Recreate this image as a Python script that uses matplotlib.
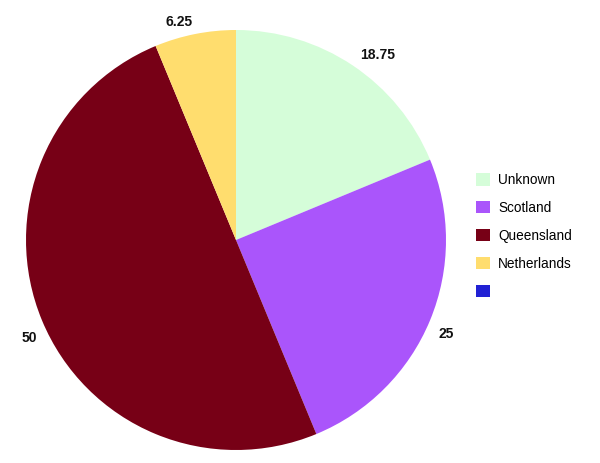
import numpy as np
import matplotlib.pyplot as plt

plt.rcParams['font.family'] = ['Liberation Sans', 'DejaVu Sans']

categories = ['Unknown', 'Scotland', 'Queensland', 'Netherlands', '']
values = [18.75, 25, 50, 6.25, 0]
value_labels = ['18.75', '25', '50', '6.25']
colors = ['#d5fdd9', '#aa55fb', '#770016', '#ffdd6e', '#2121d4']

# where the value labels sit (degrees ccw from +x, distance in radii)
label_angles = [52.8, -23.5, 204.9, 104.6]
label_dists = [1.118, 1.092, 1.086, 1.085]

fig = plt.figure(figsize=(6, 4.63), dpi=100)
ax = fig.add_axes([26 / 600, 13 / 463, 420 / 600, 420 / 463])
wedges, _ = ax.pie(values, colors=colors, startangle=90, counterclock=False,
                   radius=1, wedgeprops={'linewidth': 0})
ax.set_xlim(-1, 1)
ax.set_ylim(-1, 1)
ax.set_aspect('equal')

for txt, ang, d in zip(value_labels, label_angles, label_dists):
    a = np.deg2rad(ang)
    ax.annotate(txt, (d * np.cos(a), d * np.sin(a)), xytext=(0, -1.5),
                textcoords='offset points', ha='center', va='center',
                fontsize=10, fontweight='bold', color='#111111',
                annotation_clip=False)

fig.legend(wedges, categories, loc='upper left',
           bbox_to_anchor=(476 / 600, 1 - 173 / 463), frameon=False,
           fontsize=9.8, handlelength=1.03, handleheight=1.03,
           handletextpad=0.6, labelspacing=1.02, borderpad=0,
           borderaxespad=0)

fig.savefig('out.png', dpi=100)
